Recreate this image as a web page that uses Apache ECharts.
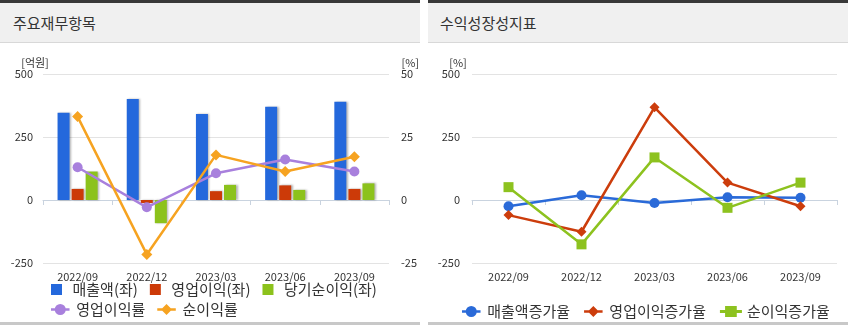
<!DOCTYPE html>
<html><head><meta charset="utf-8">
<script src="https://cdn.jsdelivr.net/npm/echarts@6/dist/echarts.min.js"></script>
<style>
body{margin:0;width:850px;height:327px;background:#fff;overflow:hidden;font-family:'Noto Sans CJK KR',sans-serif;}
.panel{position:absolute;top:0;height:325px;}
.hdr{position:absolute;left:0;right:0;top:0;height:39px;border-top:3px solid #383838;border-bottom:1px solid #d8d8d8;background:#f0f0f0;}
.hdr span{position:absolute;left:13px;top:0;line-height:39px;font-size:15px;color:#333;}
.chart{position:absolute;left:0;right:0;top:43px;height:279px;}
.foot{position:absolute;left:0;right:0;top:322px;height:3px;background:#c8c8c8;}
</style></head>
<body>
<div class="panel" style="left:0;width:420px;">
  <div class="hdr"><span>주요재무항목</span></div>
  <div class="chart" id="c1"></div>
  <div class="foot"></div>
</div>
<div class="panel" style="left:428px;width:420px;">
  <div class="hdr"><span style="left:12px">수익성장성지표</span></div>
  <div class="chart" id="c2"></div>
  <div class="foot"></div>
</div>
<script>
// ---- data ----
const categories = ['2022/09', '2022/12', '2023/03', '2023/06', '2023/09'];
const revenue = [346, 401, 341, 370, 390];        // 매출액(좌) 억원
const opProfit = [44, -12, 35, 58, 44];            // 영업이익(좌)
const netProfit = [113, -92, 60, 40, 66];          // 당기순이익(좌)
const opMargin = [13.0, -2.9, 10.6, 16.1, 11.3];   // 영업이익률 %
const netMargin = [33.1, -21.6, 17.9, 11.3, 17.2]; // 순이익률 %
const revGrowth = [-25, 19, -12, 11, 9];           // 매출액증가율 %
const opGrowth = [-60, -126, 368, 69, -25];        // 영업이익증가율 %
const netGrowth = [51, -176, 169, -31, 69];        // 순이익증가율 %
const leftTicks = { min: -250, max: 500, interval: 250 };
const rightTicks = { min: -25, max: 50, interval: 25 };
const growthTicks = { min: -250, max: 500, interval: 250 };

const FONT = "'Noto Sans CJK KR', sans-serif";
const SQ = 'path://M0,0H11V11H0Z';
const LC = 'path://M0,3.6H16V5.9H0Z M3.25,4.75A4.75,4.75 0 1,1 12.75,4.75A4.75,4.75 0 1,1 3.25,4.75Z';
const LD = 'path://M0,3.6H16V5.9H0Z M8,0L12.75,4.75L8,9.5L3.25,4.75Z';
const LS = 'path://M0,3.6H16V5.9H0Z M3.75,0.75H12.25V8.75H3.75Z';

function xAxisOpt() {
  return {
    type: 'category', data: categories,
    axisLine: { lineStyle: { color: '#c9d3df', width: 1 } },
    axisTick: { show: true, length: 5, lineStyle: { color: '#c9d3df' } },
    axisLabel: { margin: 8, fontSize: 11, color: '#333', fontFamily: FONT },
    splitLine: { show: false }
  };
}
function yAxisOpt(t, pos, margin, grid) {
  return {
    type: 'value', position: pos, min: t.min, max: t.max, interval: t.interval,
    axisLine: { show: false }, axisTick: { show: false },
    axisLabel: { margin: margin, fontSize: 11, color: '#333', fontFamily: FONT },
    splitLine: { show: grid, lineStyle: { color: '#e3e3e3' } }
  };
}
const legendText = { fontSize: 15, color: '#333', fontFamily: FONT };
const barShadow = { shadowColor: 'rgba(0,0,0,0.3)', shadowBlur: 2, shadowOffsetX: 1.5, shadowOffsetY: 0 };

const c1 = echarts.init(document.getElementById('c1'));
c1.setOption({
  animation: false,
  textStyle: { fontFamily: FONT },
  grid: { left: 43, right: 27, top: 31, bottom: 59 },
  xAxis: xAxisOpt(),
  yAxis: [yAxisOpt(leftTicks, 'left', 10, true), yAxisOpt(rightTicks, 'right', 12, false)],
  graphic: [
    { type: 'text', style: { text: '[억원]', x: 35, y: 20, align: 'center', verticalAlign: 'middle', font: '11px ' + FONT, fill: '#333' } },
    { type: 'text', style: { text: '[%]', x: 419, y: 20, align: 'right', verticalAlign: 'middle', font: '11px ' + FONT, fill: '#333' } }
  ],
  legend: [
    { data: [{ name: '매출액(좌)', icon: SQ }, { name: '영업이익(좌)', icon: SQ }, { name: '당기순이익(좌)', icon: SQ }],
      left: 51, top: 239, padding: 0, itemWidth: 22, itemHeight: 11, itemGap: 12, textStyle: legendText },
    { data: [{ name: '영업이익률', icon: LC }, { name: '순이익률', icon: LD }],
      left: 51, top: 259, padding: 0, itemWidth: 22, itemHeight: 11, itemGap: 12, textStyle: legendText }
  ],
  series: [
    { name: '매출액(좌)', type: 'bar', data: revenue, barWidth: 12, barGap: '17%', itemStyle: Object.assign({ color: '#2468dc' }, barShadow) },
    { name: '영업이익(좌)', type: 'bar', data: opProfit, barWidth: 12, barGap: '17%', itemStyle: Object.assign({ color: '#cc3a08' }, barShadow) },
    { name: '당기순이익(좌)', type: 'bar', data: netProfit, barWidth: 12, barGap: '17%', itemStyle: Object.assign({ color: '#8cc21c' }, barShadow) },
    { name: '영업이익률', type: 'line', yAxisIndex: 1, data: opMargin, symbol: 'circle', symbolSize: 10,
      lineStyle: { width: 2.5, color: '#a880dd' }, itemStyle: { color: '#a880dd' }, z: 5 },
    { name: '순이익률', type: 'line', yAxisIndex: 1, data: netMargin, symbol: 'diamond', symbolSize: 11,
      lineStyle: { width: 2.5, color: '#f6a321' }, itemStyle: { color: '#f6a321' }, z: 6 }
  ]
});

const c2 = echarts.init(document.getElementById('c2'));
c2.setOption({
  animation: false,
  textStyle: { fontFamily: FONT },
  grid: { left: 44, right: 11, top: 31, bottom: 59 },
  xAxis: xAxisOpt(),
  yAxis: yAxisOpt(growthTicks, 'left', 12, true),
  graphic: [
    { type: 'text', style: { text: '[%]', x: 30, y: 20, align: 'center', verticalAlign: 'middle', font: '11px ' + FONT, fill: '#333' } }
  ],
  legend: {
    data: [{ name: '매출액증가율', icon: LC }, { name: '영업이익증가율', icon: LD }, { name: '순이익증가율', icon: LS }],
    left: 34, top: 261, padding: 0, itemWidth: 22, itemHeight: 11, itemGap: 14, textStyle: legendText
  },
  series: [
    { name: '매출액증가율', type: 'line', data: revGrowth, symbol: 'circle', symbolSize: 10,
      lineStyle: { width: 2.5, color: '#2a6ad8' }, itemStyle: { color: '#2a6ad8' } },
    { name: '영업이익증가율', type: 'line', data: opGrowth, symbol: 'diamond', symbolSize: 10,
      lineStyle: { width: 2.5, color: '#cc3d0c' }, itemStyle: { color: '#cc3d0c' } },
    { name: '순이익증가율', type: 'line', data: netGrowth, symbol: 'rect', symbolSize: 10,
      lineStyle: { width: 2.5, color: '#8dc21f' }, itemStyle: { color: '#8dc21f' } }
  ]
});
</script>
</body></html>
